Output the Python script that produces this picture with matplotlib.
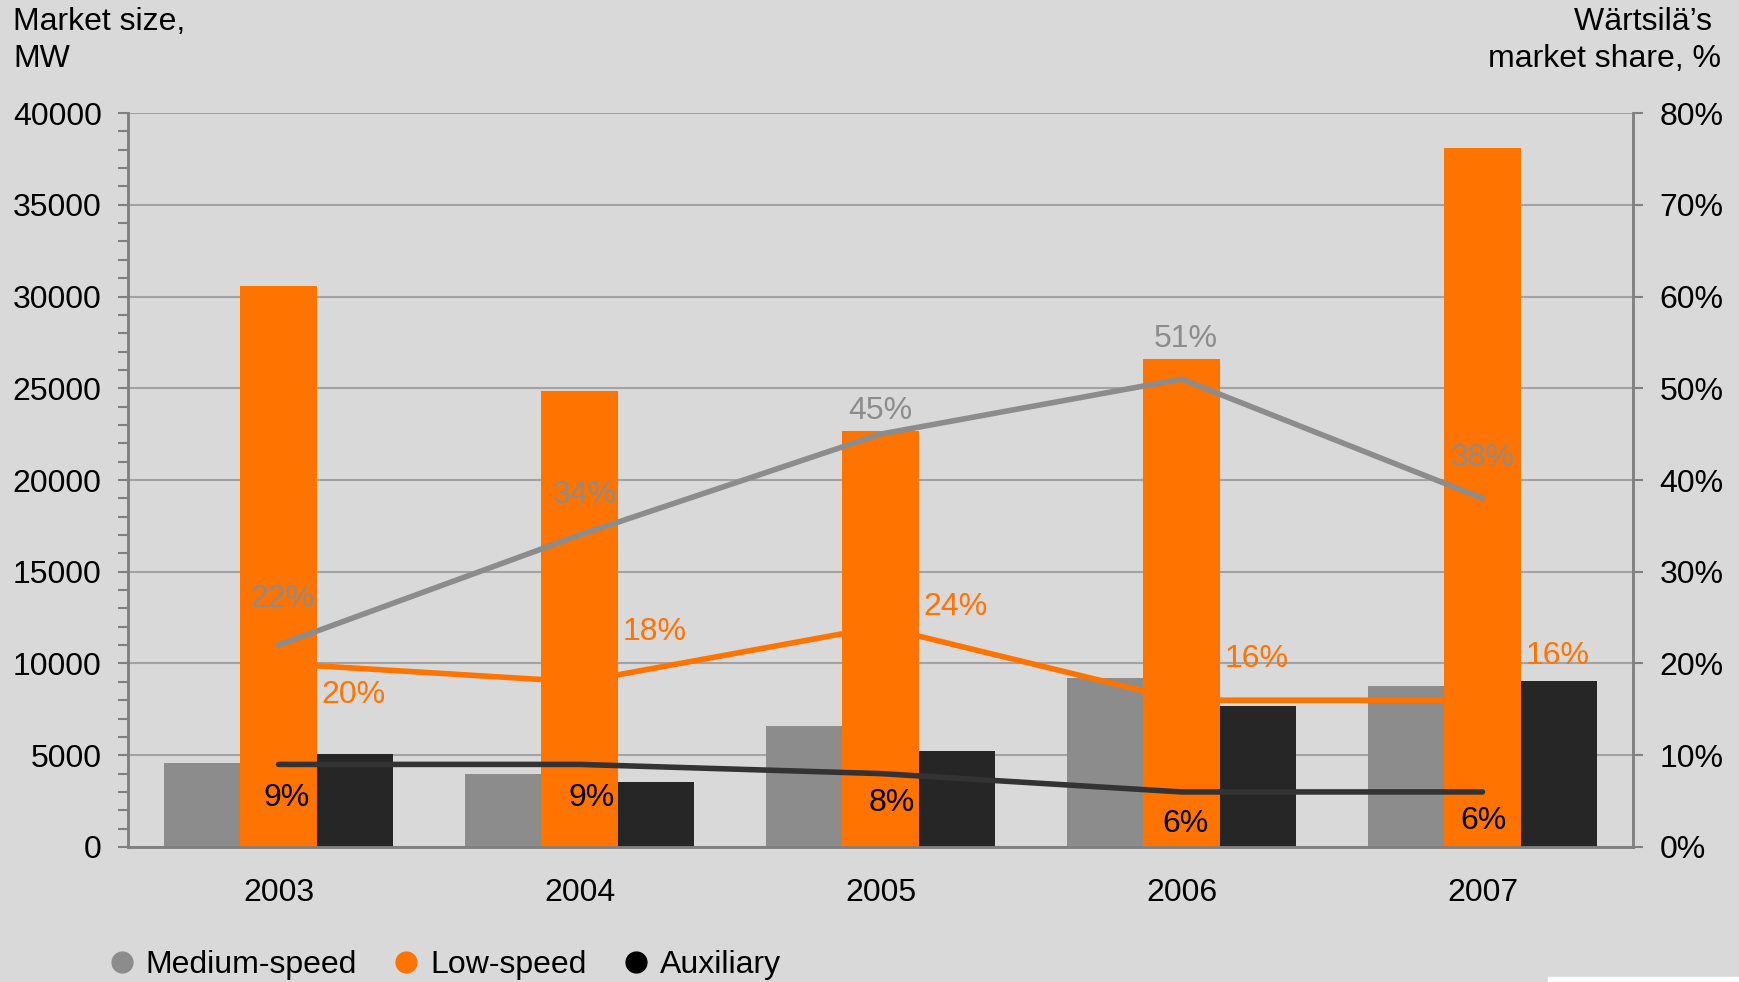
import numpy as np
import matplotlib
matplotlib.use("Agg")
import matplotlib.pyplot as plt
from matplotlib.lines import Line2D
from matplotlib.patches import Rectangle
from matplotlib.ticker import MultipleLocator, PercentFormatter

plt.rcParams["font.family"] = ["Liberation Sans", "DejaVu Sans"]

# data
years = ["2003", "2004", "2005", "2006", "2007"]
medium_mw = [4600, 4000, 6600, 9200, 8800]
low_mw = [30600, 24850, 22650, 26600, 38100]
aux_mw = [5050, 3550, 5250, 7700, 9050]
medium_share = [22, 34, 45, 51, 38]
low_share = [20, 18, 24, 16, 16]
aux_share = [9, 9, 8, 6, 6]

BG = "#d9d9d9"
GREY = "#8c8c8c"
ORANGE = "#ff7300"
BLACK = "#262626"
LINE_BLACK = "#333333"
FS = 23

fig = plt.figure(figsize=(17.4, 9.82), dpi=100, facecolor=BG)
ax = fig.add_axes([0.0736, 0.1375, 0.8649, 0.7474])
ax.set_facecolor(BG)
ax2 = ax.twinx()

x = np.arange(len(years))
w = 0.253
ax.bar(x - w, medium_mw, w, color=GREY, zorder=2)
ax.bar(x + w, aux_mw, w, color=BLACK, zorder=2)
ax.bar(x, low_mw, w, color=ORANGE, zorder=4)

ax.set_xlim(-0.5, len(years) - 0.5)
ax.set_ylim(0, 40000)
ax2.set_ylim(0, 80)

# lines live on ax (for stacking with bars) but use the share axis scale
lw = 4
ax.plot(x, low_share, color=ORANGE, lw=lw, solid_capstyle="round",
        transform=ax2.transData, zorder=3)
ax.plot(x, medium_share, color=GREY, lw=lw, solid_capstyle="round",
        transform=ax2.transData, zorder=5)
ax.plot(x, aux_share, color=LINE_BLACK, lw=lw, solid_capstyle="round",
        transform=ax2.transData, zorder=5)

# value labels (offsets in points)
med_off = [(3, 33), (4, 29), (0, 17), (3, 29), (0, 29)]
low_off = [(54, -23), (54, 36), (54, 14), (54, 30), (54, 32)]
aux_off = [(6, -24), (9, -24), (8, -21), (3, -23), (1, -21)]
for vals, offs, col in [(medium_share, med_off, GREY),
                        (low_share, low_off, ORANGE),
                        (aux_share, aux_off, "black")]:
    for xi, v, off in zip(x, vals, offs):
        ax.annotate(f"{v}%", (xi, v), xycoords=ax2.transData, xytext=off,
                    textcoords="offset points", ha="center", va="center",
                    fontsize=FS, color=col, zorder=6)

# axes styling
ax.yaxis.set_major_locator(MultipleLocator(5000))
ax.yaxis.set_minor_locator(MultipleLocator(1000))
ax.grid(axis="y", color="#a3a3a3", lw=1.5, zorder=1)
ax.set_axisbelow(True)
ax.set_xticks(x)
ax.set_xticklabels(years)
ax.tick_params(axis="x", length=0, pad=22, labelsize=FS)
ax.tick_params(axis="y", which="both", direction="out", length=7,
               width=1.5, color="#808080", pad=12, labelsize=FS)
ax2.yaxis.set_major_locator(MultipleLocator(10))
ax2.yaxis.set_major_formatter(PercentFormatter(decimals=0))
ax2.tick_params(axis="y", direction="out", length=7, width=1.5,
                color="#808080", pad=12, labelsize=FS)
for a in (ax, ax2):
    a.spines["top"].set_visible(False)
    for s in ("left", "right", "bottom"):
        a.spines[s].set_color("#808080")
        a.spines[s].set_linewidth(1.8)

fig.text(0.0075, 0.993, "Market size,\nMW", ha="left", va="top",
         fontsize=FS, linespacing=1.3)
fig.text(0.989, 0.993, "Wärtsilä’s \nmarket share, %", ha="right", va="top",
         fontsize=FS, linespacing=1.3, multialignment="right")

handles = [Line2D([], [], ls="", marker="o", ms=15, color=c, mec=c)
           for c in (GREY, ORANGE, "black")]
fig.legend(handles, ["Medium-speed", "Low-speed", "Auxiliary"],
           loc="center left", bbox_to_anchor=(0.057, 0.017), ncol=3,
           frameon=False, fontsize=FS, handlelength=0.6, handletextpad=0.45,
           columnspacing=1.25, borderaxespad=0)

fig.patches.append(Rectangle((1548 / 1740, 0), 1 - 1548 / 1740, 5 / 982,
                             transform=fig.transFigure, color="white",
                             zorder=0))

fig.savefig("out.png", dpi=100, facecolor=BG)
